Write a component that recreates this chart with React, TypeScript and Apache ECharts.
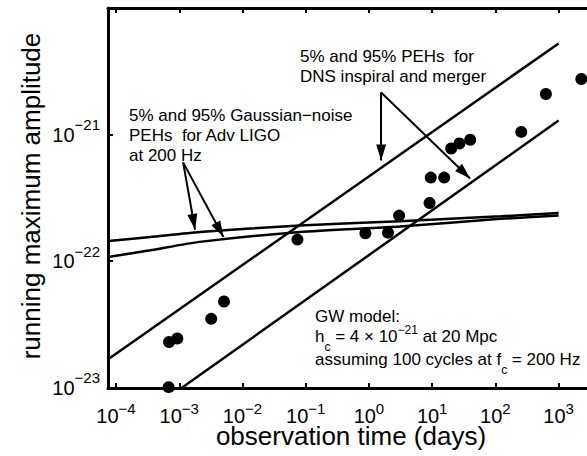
import React, { useEffect, useRef } from 'react';
import * as echarts from 'echarts';

// observed running maximum amplitude (x: days, y: strain amplitude)
const obsDays = [6.8e-4, 6.9e-4, 9.3e-4, 3.2e-3, 5.1e-3, 0.074, 0.88, 2.0, 3.0, 9.1, 9.5, 15.5, 20, 27, 40, 257, 630, 2290];
const obsAmp = [1.01e-23, 2.3e-23, 2.45e-23, 3.5e-23, 4.8e-23, 1.48e-22, 1.66e-22, 1.68e-22, 2.29e-22, 2.88e-22, 4.57e-22, 4.57e-22, 7.76e-22, 8.5e-22, 9.1e-22, 1.05e-21, 2.09e-21, 2.75e-21];

// Gaussian-noise PEHs (5% / 95%)
const gaussDays = [7.5e-5, 3.47e-4, 2.1e-3, 0.081, 3.1, 120, 1000];
const gaussHigh = [1.44e-22, 1.55e-22, 1.7e-22, 1.91e-22, 2.07e-22, 2.26e-22, 2.4e-22];
const gaussLow = [1.08e-22, 1.22e-22, 1.42e-22, 1.7e-22, 1.88e-22, 2.16e-22, 2.29e-22];

// DNS inspiral and merger PEHs (5% / 95%)
const dnsHighDays = [7.5e-5, 1000];
const dnsHighAmp = [1.68e-23, 5.25e-21];
const dnsLowDays = [1.1e-3, 1000];
const dnsLowAmp = [1.0e-23, 1.29e-21];

// annotation arrows (data coordinates)
const gaussArrowFrom = [1.15e-3, 6.03e-22];
const gaussArrowTo = [[1.78e-3, 1.77e-22], [5.0e-3, 1.55e-22]];
const dnsArrowFrom = [1.56, 2.15e-21];
const dnsArrowTo = [[1.56, 6.25e-22], [39.8, 4.5e-22]];

// axis ranges
const xMin = 7.46e-5;
const xMax = 3630;
const yMin = 0.995e-23;
const yMax = 1e-20;

const xTitle = 'observation time (days)';
const yTitle = 'running maximum amplitude';
const gaussNote = '5% and 95% Gaussian\u2212noise\nPEHs  for Adv LIGO\nat 200 Hz';
const dnsNote = '5% and 95% PEHs  for\nDNS inspiral and merger';

const FONT = '"Liberation Sans", Arial, Helvetica, sans-serif';

function powLabel(v: number): string {
  const e = Math.log10(v);
  const r = Math.round(e);
  if (Math.abs(e - r) > 0.01) return '';
  const s = (r < 0 ? '\u2212' : '') + Math.abs(r);
  return '{b|10}{e|' + s + '}';
}

const xTickRich = {
  b: { fontSize: 20, fontFamily: FONT, color: '#000', lineHeight: 20 },
  e: { fontSize: 15, fontFamily: FONT, color: '#000', height: 4, verticalAlign: 'top' },
};
const yTickRich = {
  b: { fontSize: 20, fontFamily: FONT, color: '#000', lineHeight: 22 },
  e: { fontSize: 15, fontFamily: FONT, color: '#000', height: 2, verticalAlign: 'top' },
};

export default function App() {
  const ref = useRef<HTMLDivElement>(null);
  useEffect(() => {
    if (!ref.current) return;
    const chart = echarts.init(ref.current, null, { renderer: 'svg' });
    const axisLine = { show: true, lineStyle: { color: '#000', width: 3 } };
    const axisTick = { show: true, inside: true, length: 5, lineStyle: { color: '#000', width: 2 } };
    const lineSeries = (name: string, xs: number[], ys: number[]) => ({
      name,
      type: 'line',
      data: xs.map((x, i) => [x, ys[i]]),
      symbol: 'none',
      smooth: 0.2,
      clip: true,
      lineStyle: { color: '#000', width: 2.5 },
      silent: true,
    });
    const arrow = (from: number[], to: number[]) => [{ coord: from }, { coord: to }];
    const richBase = { fontSize: 17, fontFamily: FONT, fill: '#000', color: '#000', lineHeight: 28 };
    const richSub = { fontSize: 12, fontFamily: FONT, fill: '#000', color: '#000', height: 6, verticalAlign: 'bottom' };
    const richSup = { fontSize: 12, fontFamily: FONT, fill: '#000', color: '#000', height: 15, verticalAlign: 'top' };
    chart.setOption({
      animation: false,
      backgroundColor: '#fff',
      grid: { left: 108, top: 8, width: 486, height: 380, outerBoundsMode: 'none' },
      xAxis: [
        {
          type: 'log', logBase: 10, min: xMin, max: xMax, position: 'bottom',
          axisLine, axisTick, splitLine: { show: false }, minorTick: { show: false },
          axisLabel: { formatter: powLabel, margin: 18, rich: xTickRich, showMinLabel: true, showMaxLabel: false },
        },
        {
          type: 'log', logBase: 10, min: xMin, max: xMax, position: 'top',
          axisLine, axisTick, splitLine: { show: false }, axisLabel: { show: false },
        },
      ],
      yAxis: [
        {
          type: 'log', logBase: 10, min: yMin, max: yMax, position: 'left',
          axisLine, axisTick, splitLine: { show: false },
          axisLabel: { formatter: powLabel, margin: 8, rich: yTickRich, showMinLabel: true, showMaxLabel: false, hideOverlap: false },
        },
      ],
      series: [
        lineSeries('Gaussian 95%', gaussDays, gaussHigh),
        lineSeries('Gaussian 5%', gaussDays, gaussLow),
        lineSeries('DNS 95%', dnsHighDays, dnsHighAmp),
        lineSeries('DNS 5%', dnsLowDays, dnsLowAmp),
        {
          name: 'observations',
          type: 'scatter',
          data: obsDays.map((x, i) => [x, obsAmp[i]]),
          symbol: 'circle',
          symbolSize: 12,
          itemStyle: { color: '#000', opacity: 1 },
          clip: false,
          silent: true,
          markLine: {
            silent: true,
            symbol: ['none', 'triangle'],
            symbolSize: [10, 16],
            symbolOffset: [[0, 0], [0, 8]],
            lineStyle: { color: '#000', width: 2, type: 'solid', opacity: 1 },
            itemStyle: { color: '#000', opacity: 1 },
            label: { show: false },
            emphasis: { disabled: true },
            data: [
              arrow(gaussArrowFrom, gaussArrowTo[0]),
              arrow(gaussArrowFrom, gaussArrowTo[1]),
              arrow(dnsArrowFrom, dnsArrowTo[0]),
              arrow(dnsArrowFrom, dnsArrowTo[1]),
            ],
          },
        },
      ],
      graphic: [
        {
          type: 'text', x: 351, y: 436, silent: true,
          style: { text: xTitle, fontSize: 26, fontFamily: FONT, lineHeight: 24, fill: '#000', align: 'center', verticalAlign: 'middle' },
        },
        {
          type: 'text', x: 31, y: 196, rotation: Math.PI / 2, silent: true,
          style: { text: yTitle, fontSize: 26, fontFamily: FONT, fill: '#000', align: 'center', verticalAlign: 'middle' },
        },
        {
          type: 'text', x: 129, y: 105, silent: true,
          style: { text: gaussNote, fontSize: 17, fontFamily: FONT, lineHeight: 20, fill: '#000', verticalAlign: 'top' },
        },
        {
          type: 'text', x: 300, y: 46, silent: true,
          style: { text: dnsNote, fontSize: 17, fontFamily: FONT, lineHeight: 20, fill: '#000', verticalAlign: 'top' },
        },
        {
          type: 'text', x: 315, y: 316, silent: true,
          style: { text: 'GW model:', fontSize: 17, fontFamily: FONT, fill: '#000', verticalAlign: 'middle' },
        },
        {
          type: 'text', x: 315, y: 336, silent: true,
          style: {
            text: '{b|h}{s|c}{b| = 4 \u00d7 10}{p|\u221221}{b| at 20 Mpc}',
            verticalAlign: 'middle',
            rich: { b: richBase, s: richSub, p: richSup },
          },
        },
        {
          type: 'text', x: 315, y: 359, silent: true,
          style: {
            text: '{b|assuming 100 cycles at f}{s|c}{b| = 200 Hz}',
            verticalAlign: 'middle',
            rich: { b: richBase, s: richSub },
          },
        },
      ],
    });
    return () => chart.dispose();
  }, []);
  return (
    <div style={{ position: 'absolute', left: 0, top: 0, width: 587, height: 456, overflow: 'hidden', background: '#fff' }}>
      <div ref={ref} style={{ width: 620, height: 456 }} />
    </div>
  );
}
